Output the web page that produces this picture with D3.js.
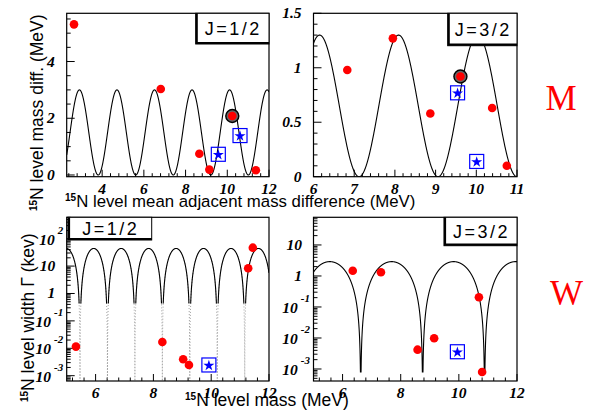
<!DOCTYPE html>
<html><head><meta charset="utf-8">
<script src="https://cdn.jsdelivr.net/npm/d3@7"></script>
<style>body{margin:0;background:#fff} svg{display:block}</style>
</head><body>
<svg id="c" width="595" height="412"></svg>
<script>
// ---------- data ----------
const tlMassX = [2.65, 6.81, 8.66, 9.14, 10.24, 11.37];
const tlMassY = [5.31, 3.03, 0.75, 0.19, 2.08, 0.17];
const tlStarX = [9.57, 10.61];
const tlStarY = [0.73, 1.39];
const trMassX = [6.83, 7.95, 8.87, 9.61, 10.39, 10.75];
const trMassY = [0.98, 1.27, 0.58, 0.92, 0.63, 0.10];
const trStarX = [9.54, 10.01];
const trStarY = [0.77, 0.14];
const blMassX = [5.32, 8.31, 9.03, 9.23, 11.28, 11.44];
const blWidth = [0.0115, 0.017, 0.0040, 0.00246, 8.3, 47];
const blStarX = [9.92];
const blStarY = [0.00246];
const brMassX = [6.35, 7.32, 8.58, 9.15, 10.69, 10.80];
const brWidth = [1.48, 1.32, 0.0042, 0.0098, 0.205, 0.0008];
const brStarX = [9.95];
const brStarY = [0.0036];
const circledIdx = [4, 3, -1, -1];
// model curves  A*cos^2(pi*(x-peak)/period)
const curveAmp = [3.0, 1.3, 44, 2.9];
const curvePeriod = [1.80, 1.94, 0.95, 2.13];
const curvePeak = [2.91, 6.15, 4.985, 5.56];
const curveFloor = [0, 0, 6.4e-4, 8e-4];
const panelLabels = ["J=1/2", "J=3/2", "J=1/2", "J=3/2"];
const sideLabels = ["M", "W"];
const tlXTicks = [4, 6, 8, 10, 12], tlYTicks = [0, 2, 4];
const trXTicks = [6, 7, 8, 9, 10, 11], trYTicks = [0, 0.5, 1, 1.5];
const bXTicks = [6, 8, 10, 12];
const blDecades = [-3, -2, -1, 0, 1, 2];
const brDecades = [-3, -2, -1, 0, 1];
const titles = {
  topX: "N level mean adjacent mass difference (MeV)",
  topY: "N level mass diff. (MeV)",
  botX: "N level mass (MeV)",
  botY: "N level width \u0393 (kev)"
};

// ---------- layout ----------
const svg = d3.select("#c");
const RED = "#ff0000", BLUE = "#0000ff";
const tickFont = "'Liberation Serif', 'DejaVu Serif', serif";
const sansFont = "'Liberation Sans', Arial, sans-serif";

const panels = [
  {x:[66.7,269], y:[13.3,176.7], xd:[2.3,12], yd:[-0.06,5.7], log:false,
   mx:tlMassX, my:tlMassY, sx:tlStarX, sy:tlStarY, xt:tlXTicks, yt:tlYTicks, xminor:0.4, yminor:0.5,
   box:[195.7,269,13.3,44]},
  {x:[313.5,517], y:[13.3,176.7], xd:[6,11], yd:[0,1.5], log:false,
   mx:trMassX, my:trMassY, sx:trStarX, sy:trStarY, xt:trXTicks, yt:trYTicks, xminor:0.2, yminor:0.1,
   box:[447.7,517,13.3,45.7]},
  {x:[66.7,269], y:[217.3,381], xd:[5,12], yd:[6.4e-4,603], log:true,
   mx:blMassX, my:blWidth, sx:blStarX, sy:blStarY, xt:bXTicks, dec:blDecades, xminor:0.4,
   box:[68,151.7,217.3,240]},
  {x:[313.5,517], y:[217.3,381], xd:[5,12], yd:[4.1e-4,78], log:true,
   mx:brMassX, my:brWidth, sx:brStarX, sy:brStarY, xt:bXTicks, dec:brDecades, xminor:0.4,
   box:[444,517,217.3,245.7]}
];

panels.forEach((p, i) => {
  const X = d3.scaleLinear().domain(p.xd).range(p.x);
  const Y = (p.log ? d3.scaleLog() : d3.scaleLinear()).domain(p.yd).range([p.y[1], p.y[0]]);
  const g = svg.append("g");
  const clipId = "clip" + i;
  svg.append("clipPath").attr("id", clipId).append("rect")
    .attr("x", p.x[0]).attr("y", p.y[0]).attr("width", p.x[1]-p.x[0]).attr("height", p.y[1]-p.y[0]);

  // ticks
  const tk = g.append("g").attr("stroke", "#000").attr("stroke-width", 1);
  const xm = d3.range(Math.ceil(p.xd[0]/p.xminor)*p.xminor, p.xd[1]+1e-9, p.xminor);
  xm.forEach(v => {
    const major = p.xt.some(t => Math.abs(t - v) < 1e-6);
    tk.append("line").attr("x1", X(v)).attr("x2", X(v)).attr("y1", p.y[1]).attr("y2", p.y[1] - (major ? 7 : 3.5));
  });
  if (!p.log) {
    const ym = d3.range(Math.ceil(p.yd[0]/p.yminor)*p.yminor, p.yd[1]+1e-9, p.yminor);
    ym.forEach(v => {
      const major = p.yt.some(t => Math.abs(t - v) < 1e-6);
      tk.append("line").attr("y1", Y(v)).attr("y2", Y(v)).attr("x1", p.x[0]).attr("x2", p.x[0] + (major ? 8 : 4));
    });
  } else {
    const lo = Math.floor(Math.log10(p.yd[0])), hi = Math.ceil(Math.log10(p.yd[1]));
    for (let d = lo; d <= hi; d++) {
      for (let m = 1; m <= 9; m++) {
        const v = m * Math.pow(10, d);
        if (v < p.yd[0] || v > p.yd[1]) continue;
        tk.append("line").attr("y1", Y(v)).attr("y2", Y(v)).attr("x1", p.x[0]).attr("x2", p.x[0] + (m === 1 ? 8 : 4));
      }
    }
  }

  // tick labels
  const lab = g.append("g").attr("font-family", tickFont).attr("font-weight", "bold")
    .attr("font-style", "italic").attr("font-size", 15.5).attr("fill", "#000");
  p.xt.forEach(v => {
    lab.append("text").attr("x", X(v)).attr("y", p.y[1] + 17).attr("text-anchor", "middle").text(v);
  });
  if (!p.log) {
    p.yt.forEach(v => {
      lab.append("text").attr("x", p.x[0] - 12).attr("y", Y(v) + 5).attr("text-anchor", "end").text(v);
    });
  } else {
    p.dec.forEach(d => {
      const yy = Y(Math.pow(10, d));
      if (d === 0 || d === 1) {
        lab.append("text").attr("x", p.x[0] - 11.5).attr("y", yy + 5).attr("text-anchor", "end").text(d === 0 ? "1" : "10");
      } else {
        const t = lab.append("text").attr("x", p.x[0] - 3.5).attr("y", yy + 6).attr("text-anchor", "end");
        t.append("tspan").text("10");
        t.append("tspan").attr("dx", 3).attr("dy", -11).attr("font-size", 11).text(d);
      }
    });
  }

  // curve
  const A = curveAmp[i], T = curvePeriod[i], pk = curvePeak[i], fl = curveFloor[i];
  const xs = d3.range(p.xd[0], p.xd[1] + 0.0025, 0.0025);
  const pts = xs.map(x => [x, Math.max(fl, A * Math.pow(Math.cos(Math.PI * (x - pk) / T), 2))]);
  const cg = g.append("g").attr("clip-path", `url(#${clipId})`);
  const line = d3.line().x(d => X(d[0])).y(d => Y(d[1]));
  if (i === 2) {
    cg.append("path").attr("d", line(pts)).attr("fill", "none").attr("stroke", "#888")
      .attr("stroke-width", 0.8).attr("stroke-dasharray", "1,2");
    cg.append("path").attr("d", line.defined(d => d[1] >= 0.4)(pts)).attr("fill", "none")
      .attr("stroke", "#000").attr("stroke-width", 1.1);
  } else {
    cg.append("path").attr("d", line(pts)).attr("fill", "none").attr("stroke", "#000").attr("stroke-width", 1.1);
  }

  // frame
  g.append("rect").attr("x", p.x[0]).attr("y", p.y[0]).attr("width", p.x[1]-p.x[0]).attr("height", p.y[1]-p.y[0])
    .attr("fill", "none").attr("stroke", "#000").attr("stroke-width", 1.2);

  // legend box
  const [bx0, bx1, by0, by1] = p.box;
  g.append("rect").attr("x", bx0).attr("y", by0).attr("width", bx1-bx0).attr("height", by1-by0)
    .attr("fill", "#fff").attr("stroke", "#000").attr("stroke-width", 1);
  g.append("path").attr("d", `M${bx0+1},${by0} V${by1-1} H${bx1}`).attr("fill", "none")
    .attr("stroke", "#000").attr("stroke-width", 2.2);
  g.append("text").attr("x", (bx0+bx1)/2 + 1).attr("y", (by0+by1)/2 + 6.5).attr("text-anchor", "middle")
    .attr("font-family", sansFont).attr("font-size", 18).attr("letter-spacing", 2.5)
    .text(panelLabels[i]);

  // points
  const pg = g.append("g");
  p.mx.forEach((x, k) => {
    if (k === circledIdx[i]) {
      pg.append("circle").attr("cx", X(x)).attr("cy", Y(p.my[k])).attr("r", 6.5)
        .attr("fill", "#666").attr("stroke", "#000").attr("stroke-width", 1.4);
    }
    pg.append("circle").attr("cx", X(x)).attr("cy", Y(p.my[k])).attr("r", 4.3).attr("fill", RED);
  });
  p.sx.forEach((x, k) => {
    const cx = X(x), cy = Y(p.sy[k]);
    pg.append("rect").attr("x", cx - 7).attr("y", cy - 7).attr("width", 14).attr("height", 14)
      .attr("fill", "none").attr("stroke", BLUE).attr("stroke-width", 1.2);
    pg.append("path").attr("d", d3.symbol(d3.symbolStar).size(38)()).attr("transform", `translate(${cx},${cy + 0.5})`)
      .attr("fill", BLUE);
  });
});

// ---------- titles ----------
function title(x, y, rot, txt, fs) {
  const t = svg.append("text").attr("font-family", sansFont).attr("font-size", fs).attr("fill", "#000")
    .attr("transform", `translate(${x},${y}) rotate(${rot})`);
  t.append("tspan").attr("font-size", 10).attr("dy", -6).attr("font-weight", "bold").text("15");
  t.append("tspan").attr("dy", 6).text(txt);
}
title(65, 207, 0, titles.topX, 16.8);
title(43, 211, -90, titles.topY, 17.5);
title(185, 406, 0, titles.botX, 17.5);
title(34, 402, -90, titles.botY, 17.5);

svg.append("text").attr("x", 561).attr("y", 110).attr("text-anchor", "middle")
  .attr("font-family", "'Liberation Serif', serif").attr("font-size", 35).attr("fill", RED).text(sideLabels[0]);
svg.append("text").attr("x", 566.5).attr("y", 305).attr("text-anchor", "middle")
  .attr("font-family", "'Liberation Serif', serif").attr("font-size", 35).attr("fill", RED).text(sideLabels[1]);
</script>
</body></html>
